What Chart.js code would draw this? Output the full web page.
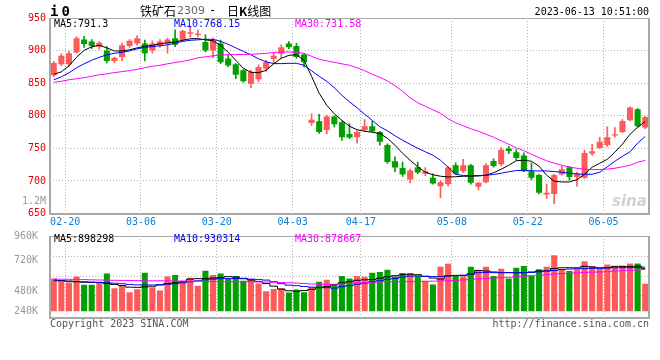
<!DOCTYPE html>
<html>
<head>
<meta charset="utf-8">
<script src="https://cdn.jsdelivr.net/npm/chart.js@4.4.0/dist/chart.umd.min.js"></script>
<style>
  body { margin: 0; background: #fff; }
  #wrap { position: relative; width: 660px; height: 360px; overflow: hidden; font-family: "DejaVu Sans Mono", monospace; font-size: 10px; }
  canvas { position: absolute; left: 0; }
  .t { position: absolute; white-space: nowrap; line-height: 12px; }
  .cjk { font-family: "Noto Sans CJK SC", sans-serif; font-size: 12px; line-height: 16px; }
</style>
</head>
<body>
<div id="wrap">
  <canvas id="k" width="660" height="232" style="top:0"></canvas>
  <canvas id="v" width="660" height="134" style="top:226px"></canvas>

  <div class="t" style="left:50px;top:3px;font-size:14px;font-weight:bold;line-height:16px;letter-spacing:3px">i0</div>
  <div class="t cjk" style="left:140px;top:3px">铁矿石</div>
  <div class="t" style="left:177px;top:5px;color:#666;font-family:'DejaVu Sans',sans-serif;font-size:11px">2309</div>
  <div class="t" style="left:209px;top:4px;font-size:12px">-</div>
  <div class="t cjk" style="left:227px;top:3px">日<b>K</b>线图</div>
  <div class="t" style="right:11px;top:6px">2023-06-13 10:51:00</div>

  <div class="t" style="left:54px;top:18px;color:#000">MA5:791.3</div>
  <div class="t" style="left:174px;top:18px;color:#0000ff">MA10:768.15</div>
  <div class="t" style="left:295px;top:18px;color:#ff00ff">MA30:731.58</div>

  <div class="t" style="right:614px;top:195px;color:#999">1.2M</div>
  <div class="t" style="left:612px;top:195px;font-size:15px;font-weight:bold;font-style:italic;color:rgba(190,190,190,0.7);font-family:'DejaVu Sans',sans-serif">sina</div>

  <div class="t" style="left:54px;top:233px;color:#000">MA5:898298</div>
  <div class="t" style="left:174px;top:233px;color:#0000ff">MA10:930314</div>
  <div class="t" style="left:295px;top:233px;color:#ff00ff">MA30:878667</div>

  <div class="t" style="left:50px;top:318px;color:#555">Copyright 2023 SINA.COM</div>
  <div class="t" style="right:11px;top:318px;color:#555">http://finance.sina.com.cn</div>
</div>

<script>
// trading days shown (02-17 .. 06-13)
const dates = ['02-17','02-20','02-21','02-22','02-23','02-24','02-27','02-28','03-01','03-02',
  '03-03','03-06','03-07','03-08','03-09','03-10','03-13','03-14','03-15','03-16',
  '03-17','03-20','03-21','03-22','03-23','03-24','03-27','03-28','03-29','03-30',
  '03-31','04-03','04-04','04-06','04-07','04-10','04-11','04-12','04-13','04-14',
  '04-17','04-18','04-19','04-20','04-21','04-24','04-25','04-26','04-27','04-28',
  '05-04','05-05','05-08','05-09','05-10','05-11','05-12','05-15','05-16','05-17',
  '05-18','05-19','05-22','05-23','05-24','05-25','05-26','05-29','05-30','05-31',
  '06-01','06-02','06-05','06-06','06-07','06-08','06-09','06-12','06-13'];
const tickDates = ['02-20','03-06','03-20','04-03','04-17','05-08','05-22','06-05'];

const open = [862,879,879,897,917,914,906,900,884,890, 907,911,911,900,908,911,919,916,926,924,
  913,900,911,888,879,870,849,856,872,887, 895,911,907,894,789,791.5,778,799,790,772,
  767,778,784,775,755,730,720,702,721,711, 705,692,695,724,715,724,691,698,730.6,725.6,
  749.7,744,739,715,709,679,680,710,721,706, 705,742,750.6,755,769.6,775,793,810,782];
const close = [881,892,896,919,910,907,912,884,889,908, 915,919,896,911,914,917,909,930,928,926,
  900,916,882,877,863,853,867,875,882,892, 905,905,890,882,794,775,799,787,767,766.5,
  775,784,776,760,729,720.5,710,716,713,715, 696,698,720.5,711,724,697,697,724,723,748,
  746,735,715,705,682,682,709,718,706,711, 743,745.5,760,767,771.6,792,812.5,784,798];
const high = [883,895,899,921,922,917,914,906,890,912, 917,923,916,915,917,919,932,931,936,932,
  924,919,916,893,880,871,870,878,885,897, 909,914,911,895,803,802,801,800,792,788,
  777,794,792,776,757,737,729,718,729,720.5, 711,700,722,727.6,733,725.6,698,726.6,734,751,
  753,748,743,727.6,710,695,710,722.5,722,713, 747,756,767,783,782,794,813.5,811,799];
const low = [860,877,876,896,905,903,902,881,881,884, 905,908,884,896,905,896,906,914,921,921,
  898,889,880,875,857,851,843,852,868,880, 888,903,888,875,785,773,772,783,762,765,
  758,776,775,755,727,714,707,697,711,708, 695,674,692,710,713,695,686,697,721,723,
  742,732,714,702,680,673,665,709,701,692, 704,739,749.7,753,767,774,792,783,780];

const ma5 = [863.6,867.4,876.6,889.7,900.4,905.8,908.1,904.2,899.3,899.6,
  901.2,904.2,906.5,908.1,910.4,911.9,913.4,915.8,918.1,918.4,
  916.5,915,908.1,897.4,885.1,872.8,866.7,866.2,869.7,879.7,
  888.1,892.7,893.5,885.1,860.5,834.5,816,803,793,783.9,
  778.5,776.2,774.7,772.7,765.4,754.7,742.4,731.7,721.7,713.3,
  709.5,707.2,706.1,706.4,707.2,707.2,707.6,708.7,712.5,717.9,
  724,731,731.7,730.2,722.5,708.7,699.5,698.4,698.4,701.8,
  710.2,721,727.1,733.2,744,756.6,771.6,782.3,791.3];
const ma10 = [855.2,859.8,865.9,873.6,879.7,885.1,889.7,893.5,895.8,897.4,
  899.6,902.7,905,906.1,907.3,908.9,911.2,914.2,915.8,916.5,
  917.3,917.3,914.2,909.6,904.2,898.9,893.5,887.4,882.8,880,
  880,880.5,880.5,877.4,869,860.5,852.9,842.9,831.4,821.4,
  812.2,802.3,793,783.1,776.9,769.3,762.4,756.2,750.1,744.7,
  739.4,731.7,721,710.2,708.2,708.2,708.2,708.7,709.8,711.8,
  714.1,715.9,716.4,715.6,715.3,715.3,714.4,713.3,711.8,710.7,
  710.2,710.2,713.3,721.7,730.2,737.8,744.7,758,768.15];
const ma30 = [851.3,852.9,855.2,856.7,858.5,860.5,862.8,864.4,866.2,867.7,
  869.3,871.3,873.6,875.9,877.4,879.7,881.6,883.5,885.8,888.9,
  890.4,892,893.2,893.8,893.8,894,894.3,895,895.8,896.9,
  897.8,897.8,897.4,895.8,891.2,886.6,884.3,882,879.7,877.4,
  873.6,869,863.6,859,853.6,846,837.5,827.6,819.9,814.5,
  809.2,803.8,795.4,789.2,784.6,780,776.2,771.6,767,761.6,
  756.2,750.9,746.3,740.9,735.6,731,727.1,724,721.4,719.4,
  717.9,717.4,717.4,718.2,719.4,721.7,724,728.6,731.58];

// volume, thousand lots
const volume = [689,627,607,731,559,559,607,793,482,538, 400,462,814,503,435,731,766,642,704,538,
  855,766,793,677,745,642,677,586,420,470, 482,393,455,400,503,621,662,573,745,689,
  745,725,814,828,876,731,807,807,745,642, 565,938,1000,745,731,938,876,938,745,896,
  689,917,952,745,884,938,1180,884,849,884, 1056,952,896,987,938,967,1008,1008,580];
const vma5 = [658,648,635,621,611,606,606,584,563,542, 507,503,513,528,553,584,600,621,677,687,
  689,700,712,729,720,693,658,627,584,528, 466,431,420,435,460,497,518,559,600,621,
  652,662,667,695,725,749,770,780,770,735, 700,677,745,756,751,780,859,849,828,814,
  814,814,814,828,849,849,900,917,917,917, 946,932,917,917,946,942,942,952,898.3];
const vma10 = [642,638,631,625,621,615,609,600,590,580, 565,555,553,553,559,569,580,600,621,642,
  662,677,687,689,689,685,677,667,656,621, 580,549,538,522,507,503,497,486,518,538,
  569,594,621,642,673,693,720,741,745,737, 731,735,745,753,760,787,814,814,814,814,
  814,814,814,818,832,849,859,880,890,896, 900,905,905,911,917,917,917,921,930.3];
const vma30 = [677,675,673,671,667,662,658,656,652,650, 648,646,644,642,642,640,638,635,631,629,
  627,625,623,621,621,621,619,617,615,611, 606,600,594,584,573,567,565,569,580,590,
  600,606,611,617,621,621,623,625,627,629, 633,638,642,652,662,673,683,693,702,708,
  716,729,739,749,758,770,782,793,801,809, 818,824,828,836,847,855,863,869,878.7];

// volume axis texts as printed on the chart, and where they sit (thousand lots)
const volLabels = ['960K','720K','480K','240K'];
const volLabelAt = [1588, 1070, 414, 0];
const volGridAt = [1149, 739, 325];

const UP = '#ff5a5a', DOWN = '#00a000';
const GRID = '#b4b4b4';
const mono = { family: 'DejaVu Sans Mono', size: 10 };

const idx = dates.map((d, i) => i);
const colors = idx.map(i => close[i] >= open[i] ? UP : DOWN);
const tickAt = tickDates.map(d => dates.indexOf(d) + 0.5);

// grey frame round the plot area
const frame = {
  id: 'frame',
  afterDraw(chart) {
    const { ctx, chartArea: a } = chart;
    const l = Math.round(a.left), r = Math.round(a.right), t = Math.round(a.top), b = Math.round(a.bottom);
    ctx.save();
    ctx.fillStyle = '#a8a8a8';
    ctx.fillRect(l, t, r - l, 1);
    ctx.fillRect(l - 1, t, 2, b - t + 1);
    ctx.fillRect(r - 1, t, 2, b - t + 1);
    ctx.fillRect(l - 1, b - 1, r - l + 2, 2);
    ctx.restore();
  }
};

function xAxis(showLabels, h) {
  return {
    type: 'linear', min: -0.5, max: dates.length - 0.5, offset: false, bounds: 'data',
    grid: { color: GRID, offset: false, drawTicks: false },
    border: { display: false, dash: [1, 2] },
    afterBuildTicks: s => { s.ticks = tickAt.map(v => ({ value: v })); },
    ticks: {
      display: showLabels, color: '#0a7fd6', font: mono, padding: 3,
      maxRotation: 0, autoSkip: false,
      callback: v => dates[Math.round(v - 0.5)]
    },
    afterFit: s => { s.height = h; }
  };
}

function maLine(data, color, stepped) {
  return { type: 'line', data, borderColor: color, borderWidth: 1, pointRadius: 0,
    tension: 0, stepped: stepped ? 'middle' : false, order: 0 };
}

const common = {
  responsive: false, animation: false, devicePixelRatio: 1,
  plugins: { legend: { display: false }, tooltip: { enabled: false } },
  events: []
};

new Chart(document.getElementById('k'), {
  type: 'bar',
  data: {
    labels: idx,
    datasets: [
      maLine(ma30, '#ff00ff'),
      maLine(ma10, '#0000ff'),
      maLine(ma5, '#000000'),
      { data: idx.map(i => [low[i], high[i]]), backgroundColor: colors,
        barThickness: 1, grouped: false, order: 2 },
      { data: idx.map(i => [open[i], close[i]]), backgroundColor: colors,
        barPercentage: 0.8, categoryPercentage: 1, minBarLength: 1, grouped: false, order: 1 }
    ]
  },
  options: {
    ...common,
    layout: { padding: { top: 18, right: 11, left: 0, bottom: 0 } },
    scales: {
      x: xAxis(true, 18.5),
      y: {
        min: 650, max: 950, beginAtZero: false,
        grid: { color: GRID, drawTicks: false },
        border: { display: false, dash: [1, 2] },
        ticks: { stepSize: 50, color: '#e00000', font: mono, padding: 4 },
        afterFit: s => { s.width = 50; }
      }
    }
  },
  plugins: [frame]
});

new Chart(document.getElementById('v'), {
  type: 'bar',
  data: {
    labels: idx,
    datasets: [
      maLine(vma30, '#ff00ff', true),
      maLine(vma10, '#0000ff', true),
      maLine(vma5, '#000000', true),
      { data: volume, backgroundColor: colors, barPercentage: 0.8, categoryPercentage: 1, order: 1 }
    ]
  },
  options: {
    ...common,
    layout: { padding: { top: 8.3, right: 11, left: 0, bottom: 0 } },
    scales: {
      x: xAxis(false, 41.7),
      y: {
        min: -151, max: 1588, beginAtZero: false, bounds: 'data',
        afterBuildTicks: s => { s.ticks = volGridAt.map(v => ({ value: v })); },
        grid: { color: GRID, drawTicks: false },
        border: { display: false, dash: [1, 2] },
        ticks: { display: false },
        afterFit: s => { s.width = 0; }
      },
      yl: {
        position: 'left', min: -151, max: 1588, beginAtZero: false, bounds: 'data',
        afterBuildTicks: s => { s.ticks = volLabelAt.map(v => ({ value: v })); },
        grid: { display: false },
        border: { display: false },
        ticks: { color: '#999', font: mono, padding: 4, autoSkip: false,
          callback: (v, i) => volLabels[i] },
        afterFit: s => { s.width = 50; }
      }
    }
  },
  plugins: [frame]
});
</script>
</body>
</html>
